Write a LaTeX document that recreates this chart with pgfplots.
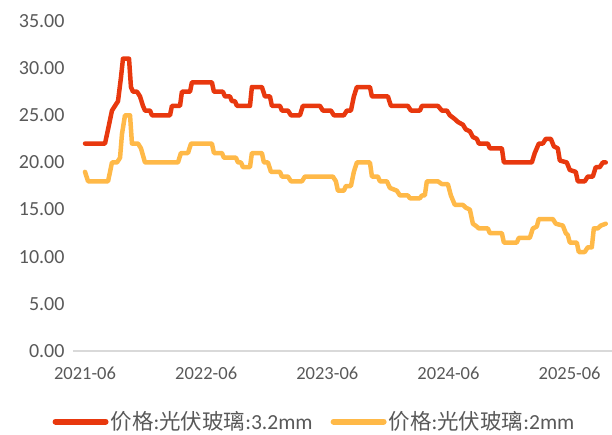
\documentclass[border=0pt]{standalone}
\usepackage{fontspec}
\setmainfont{Carlito}
\newfontfamily\cjk{Noto Sans CJK SC}
\usepackage{pgfplots}
\pgfplotsset{compat=1.18}
\definecolor{redline}{RGB}{232,56,14}
\definecolor{yelline}{RGB}{255,185,72}
\definecolor{ticktxt}{RGB}{89,89,89}
\definecolor{basegray}{RGB}{217,217,217}
\begin{document}
\begin{tikzpicture}
\begin{axis}[
  name=ax,
  at={(0,0)}, anchor=south west,
  scale only axis,
  width=539bp, height=330bp,
  xmin=-1.19, xmax=52.2,
  ymin=0, ymax=35,
  ytick={0,5,10,15,20,25,30,35},
  xtick={0,12,24,36,48},
  xticklabels={2021-06,2022-06,2023-06,2024-06,2025-06},
  major tick length=0pt,
  axis x line=bottom,
  axis y line=left,
  y axis line style={draw=none},
  x axis line style={draw=basegray, line width=1.3bp, -},
  tick label style={text=ticktxt},
  yticklabel style={font=\fontsize{20bp}{24bp}\selectfont, xshift=-5bp},
  xticklabel style={font=\fontsize{18.5bp}{22bp}\selectfont, yshift=-12bp},
  /pgf/number format/.cd, fixed, fixed zerofill, precision=2, assume math mode=true,
  /pgfplots/.cd,
  clip=false,
  legend columns=2,
  legend style={at={(0.448,-0.214)}, anchor=center, draw=none, fill=none,
    font=\fontsize{21.5bp}{24bp}\selectfont, text=ticktxt,
    /tikz/every even column/.append style={column sep=16bp}},
  legend image code/.code={\draw[line width=6bp, line cap=round] (0bp,0bp) -- (50bp,0bp);},
]
\addplot[redline, line width=4.5bp, line join=round, line cap=round] coordinates {
(0,22) (1.98,22) (2.28,23.5) (2.67,25.5) (2.97,26) (3.27,26.5) (3.56,29) (3.76,31) (4.36,31)
(4.55,28) (4.75,27.5) (5.15,27.5) (5.45,27) (5.74,26) (5.94,25.5) (6.44,25.5) (6.63,25)
(8.42,25) (8.61,26) (9.41,26) (9.60,27.5) (10.40,27.5) (10.59,28.5) (12.57,28.5) (12.77,27.5)
(13.66,27.5) (13.86,27) (14.36,27) (14.55,26.5) (14.85,26.5) (15.05,26) (16.34,26) (16.53,28)
(17.52,28) (17.82,27) (18.32,27) (18.51,26) (19.31,26) (19.50,25.5) (20.10,25.5) (20.40,25)
(21.29,25) (21.58,26) (23.27,26) (23.56,25.5) (24.36,25.5) (24.65,25) (25.64,25) (25.94,25.5)
(26.34,25.5) (26.63,27) (26.93,28) (28.22,28) (28.42,27) (30.00,27) (30.30,26) (31.98,26)
(32.28,25.5) (33.17,25.5) (33.37,26) (34.95,26) (35.35,25.5) (35.84,25.5) (36.14,25)
(36.63,24.6) (36.93,24.3) (37.43,24) (37.72,23.5) (38.12,23.3) (38.42,22.7) (38.81,22.5)
(39.01,22) (39.90,22) (40.10,21.5) (41.29,21.5) (41.49,20) (44.26,20) (44.55,21) (44.95,22)
(45.35,22) (45.64,22.5) (46.14,22.5) (46.44,21.7) (46.83,21.5) (47.03,20.2) (47.72,20)
(48.02,19.2) (48.61,19) (48.81,18) (49.50,18) (49.80,18.5) (50.30,18.5) (50.59,19.5)
(50.99,19.5) (51.29,20) (51.58,20)
};
\addlegendentry{{\cjk 价格}:{\cjk 光伏玻璃}:3.2mm}
\addplot[yelline, line width=4.5bp, line join=round, line cap=round] coordinates {
(0,19) (0.3,18) (2.28,18) (2.48,19) (2.67,20) (3.17,20) (3.47,20.5) (3.66,23) (3.96,25)
(4.46,25) (4.65,22) (5.25,22) (5.54,21.5) (5.94,20) (9.21,20) (9.50,21) (10.20,21)
(10.50,22) (12.57,22) (12.77,21) (13.56,21) (13.76,20.5) (14.95,20.5) (15.15,20) (15.45,20)
(15.64,19.5) (16.34,19.5) (16.53,21) (17.52,21) (17.72,20) (18.12,20) (18.42,19) (19.31,19)
(19.50,18.5) (20.10,18.5) (20.40,18) (21.49,18) (21.78,18.5) (24.55,18.5) (24.85,18)
(25.05,17) (25.64,17) (25.84,17.5) (26.34,17.5) (26.63,19) (26.93,20) (28.22,20) (28.42,18.5)
(29.01,18.5) (29.21,18) (29.90,18) (30.20,17.3) (30.89,17) (31.19,16.5) (31.98,16.5)
(32.18,16.2) (33.17,16.2) (33.37,16.5) (33.66,16.5) (33.86,18) (34.95,18) (35.35,17.7)
(35.94,17.7) (36.24,16.5) (36.63,15.5) (37.43,15.5) (37.72,15.2) (38.12,15) (38.42,13.5)
(38.81,13.2) (39.01,13) (39.90,13) (40.10,12.5) (41.29,12.5) (41.49,11.5) (42.77,11.5)
(42.97,12) (44.06,12) (44.36,13) (44.75,13.2) (44.95,14) (46.34,14) (46.63,13.5) (47.33,13.3)
(47.62,12.5) (47.82,12.3) (48.02,11.5) (48.71,11.5) (48.91,10.5) (49.50,10.5) (49.80,11)
(50.20,11) (50.40,13) (50.79,13) (51.09,13.3) (51.58,13.5)
};
\addlegendentry{{\cjk 价格}:{\cjk 光伏玻璃}:2mm}
\end{axis}
\pgfresetboundingbox
\useasboundingbox (-73bp,-84bp) rectangle (539bp,351bp);
\end{tikzpicture}
\end{document}
